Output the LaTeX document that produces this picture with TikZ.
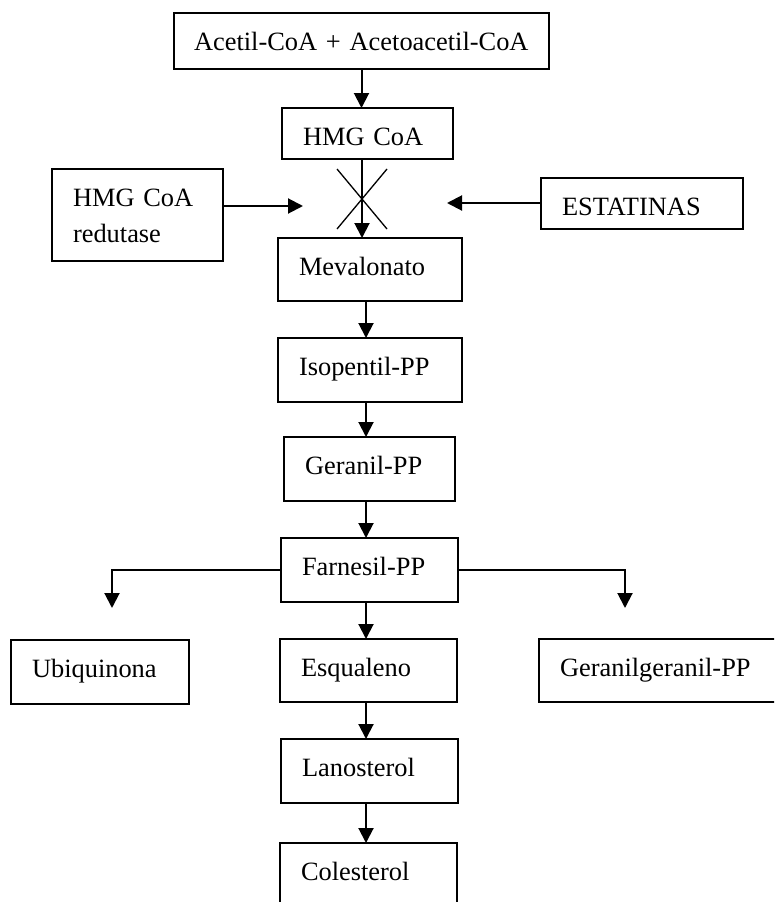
\documentclass[tikz,border=0pt]{standalone}
\usepackage{fontspec}
\setmainfont{Liberation Serif}
\usetikzlibrary{arrows.meta}
\definecolor{ink}{HTML}{000000}

\begin{document}
\begin{tikzpicture}[
  x=1pt, y=-1pt,
  font=\fontsize{26.4pt}{36pt}\selectfont,
  box/.style={draw=ink, line width=2pt, anchor=north west, outer sep=0pt,
    inner xsep=21pt, inner ysep=0pt, text height=37pt, align=left},
  arr/.style={-{Triangle[length=15pt,width=15pt]}, draw=ink, line width=2pt},
  crossln/.style={draw=ink, line width=1.3pt}
]
\useasboundingbox (0,0) rectangle (774,902);
\clip (0,0) rectangle (774,902);

% Start of the pathway
\node[box, inner xsep=20pt, text width=335pt, text depth=19pt] (acetil) at (174,13) {Acetil-CoA + Acetoacetil-CoA};
\node[box, text width=129pt, text depth=14pt] (hmg) at (282,108) {HMG CoA};

% Enzyme and inhibitor
\node[box, text width=129pt, text depth=55pt] (redut) at (52,169) {HMG CoA\\redutase};
\node[box, text width=160pt, text depth=14pt] (estat) at (541,178) {ESTATINAS};

% Main chain
\node[box, text width=142pt, text depth=26pt] (meval) at (278,238) {Mevalonato};
\node[box, text width=142pt, text depth=27pt] (isopen) at (278,338) {Isopentil-PP};
\node[box, text width=129pt, text depth=27pt] (geran) at (284,437) {Geranil-PP};
\node[box, text width=135pt, text depth=27pt] (farnes) at (281,538) {Farnesil-PP};

% Branches
\node[box, text width=136pt, text depth=27pt] (ubiq) at (11,640) {Ubiquinona};
\node[box, text width=135pt, text depth=26pt] (esqual) at (280,639) {Esqualeno};
\node[box, text width=209pt, text depth=26pt] (gergen) at (539,639) {Geranilgeranil-PP};

% End of the chain
\node[box, text width=135pt, text depth=27pt] (lanost) at (281,739) {Lanosterol};
\node[box, text width=135pt, text depth=27pt] (colest) at (280,843) {Colesterol};

% Helper points
\coordinate (axis) at (366,0);
\coordinate (block) at (362,199);
\coordinate (inL) at (303,206);
\coordinate (inR) at (447,203);
\coordinate (ubiqin) at (112,608);
\coordinate (gerin) at (625,608);

% Blocked step
\draw[arr] (acetil.south) -- (acetil.south |- hmg.north);
\draw[arr] (hmg.south -| block) -- (block |- meval.north);
\draw[crossln] (block) +(-25,-30) -- +(25,30);
\draw[crossln] (block) +(25,-30) -- +(-25,30);
\draw[arr] (redut.east |- inL) -- (inL);
\draw[arr] (estat.west |- inR) -- (inR);

% Chain arrows
\draw[arr] (meval.south -| axis) -- (isopen.north -| axis);
\draw[arr] (isopen.south -| axis) -- (geran.north -| axis);
\draw[arr] (geran.south -| axis) -- (farnes.north -| axis);
\draw[arr] (farnes.south -| axis) -- (esqual.north -| axis);
\draw[arr] (esqual.south -| axis) -- (lanost.north -| axis);
\draw[arr] (lanost.south -| axis) -- (colest.north -| axis);

% Side branches
\draw[arr] (farnes.west) -| (ubiqin);
\draw[arr] (farnes.east) -| (gerin);

\end{tikzpicture}
\end{document}
